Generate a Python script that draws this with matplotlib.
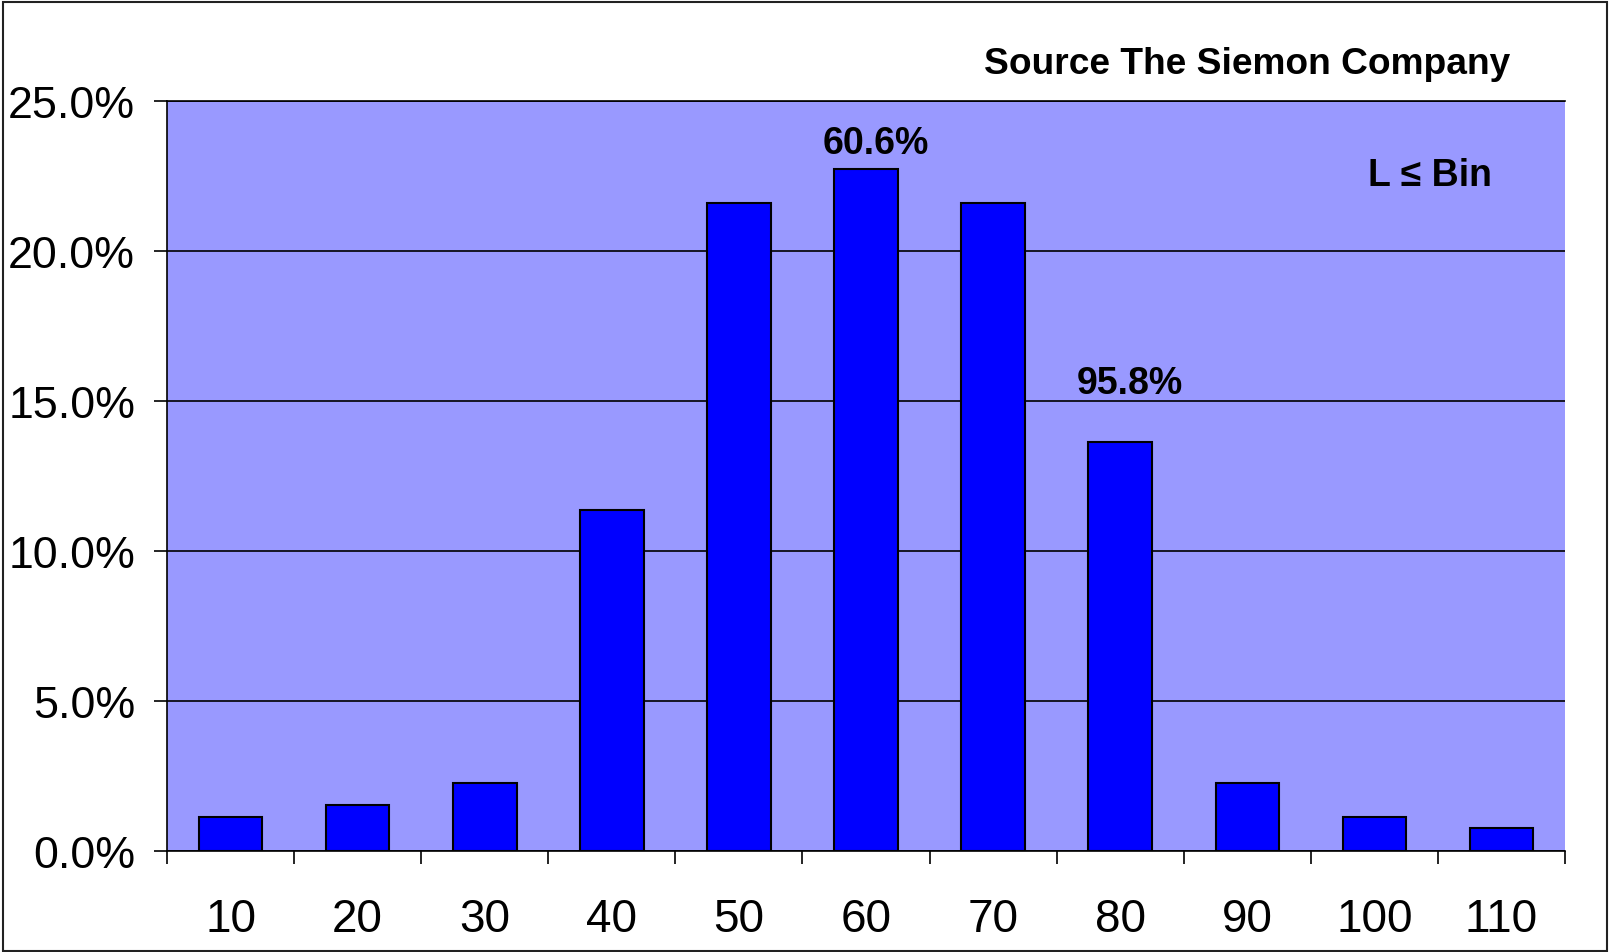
import matplotlib
matplotlib.use("Agg")
import matplotlib.pyplot as plt
from matplotlib.patches import Rectangle
from matplotlib.ticker import FuncFormatter, MultipleLocator, FixedLocator
import numpy as np

plt.rcParams['font.family'] = ['Liberation Sans', 'DejaVu Sans']

bins = ["10", "20", "30", "40", "50", "60", "70", "80", "90", "100", "110"]
percent = [1.14, 1.52, 2.27, 11.36, 21.59, 22.73, 21.59, 13.64, 2.27, 1.14, 0.76]
cum_labels = {5: "60.6%", 7: "95.8%"}
label_y = {5: 23.6, 7: 15.6}

fig = plt.figure(figsize=(16.09, 9.53), dpi=100)
ax = fig.add_axes([167/1609, 101/953, (1565-167)/1609, (850-100)/953])
ax.set_facecolor('#9999FF')

x = np.arange(len(bins))
ax.bar(x, percent, width=0.5, color='#0000FF', edgecolor='black', linewidth=1.5, zorder=3)

ax.set_xlim(-0.5, len(bins) - 0.5)
ax.set_ylim(0, 25)
ax.yaxis.set_major_locator(MultipleLocator(5))
ax.yaxis.set_major_formatter(FuncFormatter(lambda v, p: f"{v:.1f}%"))
ax.grid(axis='y', color='black', linewidth=1.2, zorder=1)
ax.set_axisbelow(True)

ax.set_xticks(x)
ax.set_xticklabels(bins)
ax.xaxis.set_minor_locator(FixedLocator(np.arange(-0.5, len(bins), 1.0)))
ax.tick_params(axis='x', which='major', length=0, pad=33, labelsize=33)
ax.tick_params(axis='x', which='minor', length=9.4, width=1.2, direction='out', color='black')
ax.tick_params(axis='y', which='major', length=9.4, width=1.2, direction='out', pad=13.5, labelsize=32.2)

ax.spines['right'].set_visible(False)
ax.spines['top'].set_linewidth(1.2)
ax.spines['left'].set_linewidth(1.2)
ax.spines['bottom'].set_linewidth(1.2)

for i, t in cum_labels.items():
    ax.text(i + 0.08, label_y[i], t, ha='center', va='center', fontsize=27, fontweight='bold', zorder=5)

fig.text(1510/1609, 1 - 64/953, "Source The Siemon Company", ha='right', va='center',
         fontsize=26.7, fontweight='bold')
fig.text(1492/1609, 1 - 176/953, "L \u2264 Bin", ha='right', va='center',
         fontsize=27, fontweight='bold')

fig.patches.append(Rectangle((3/1609, 1/953), 1604/1609, 949/953, transform=fig.transFigure,
                             fill=False, edgecolor='#222222', linewidth=1.5))

fig.savefig("out.png", dpi=100)
